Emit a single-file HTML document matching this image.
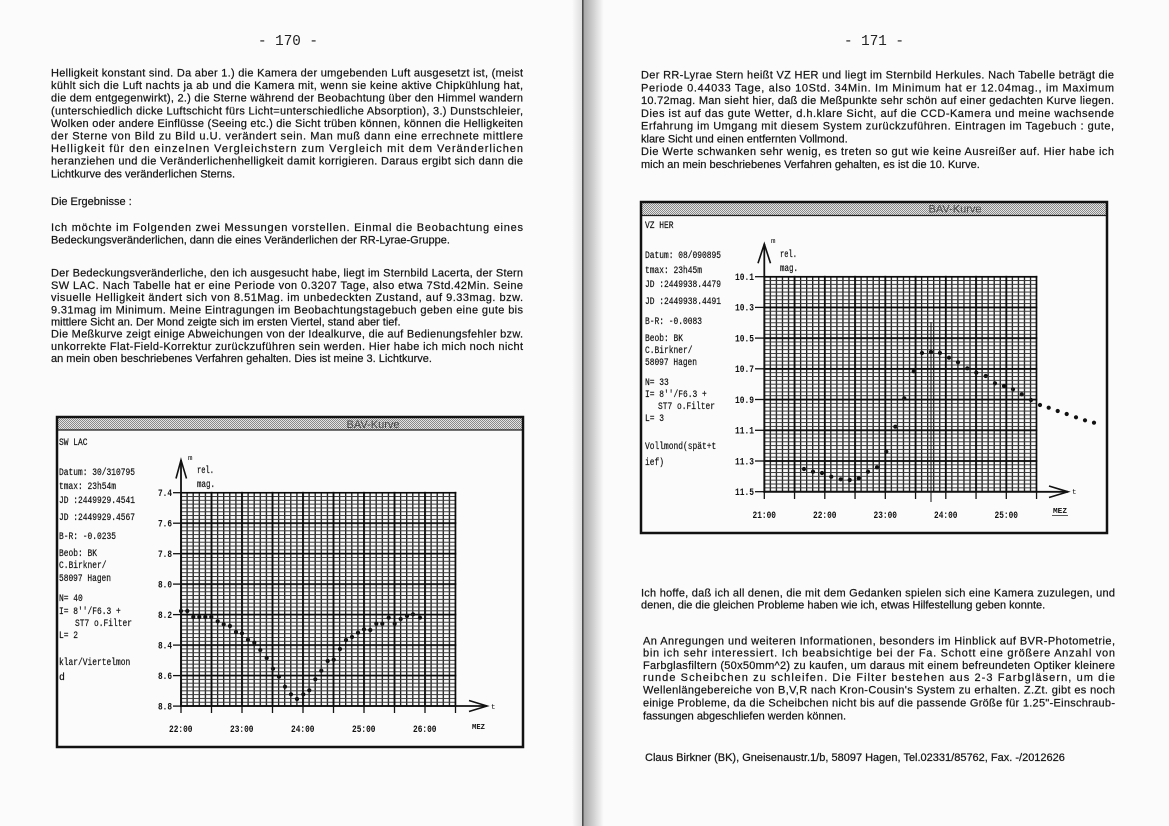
<!DOCTYPE html>
<html>
<head>
<meta charset="utf-8">
<style>
html,body{margin:0;padding:0;background:#fbfbfb;}
svg{display:block;}
.b{font-family:"Liberation Sans",Arial,sans-serif;font-size:11px;fill:#151515;stroke:#151515;stroke-width:0.22px;}
.pn{font-family:"Liberation Mono",monospace;font-size:15px;fill:#222;}
.i{font-family:"Liberation Mono",monospace;font-size:9.8px;fill:#111;stroke:#111;stroke-width:0.2px;}
.tk{font-family:"Liberation Mono",monospace;font-size:10px;font-weight:bold;fill:#111;}
.sm{font-family:"Liberation Mono",monospace;font-size:7.5px;fill:#111;}
.tt{font-family:"Liberation Sans",Arial,sans-serif;font-size:11px;fill:#444;}
</style>
</head>
<body>
<svg width="1169" height="826" viewBox="0 0 1169 826" xmlns="http://www.w3.org/2000/svg">
<defs>
  <pattern id="stip" patternUnits="userSpaceOnUse" x="0" y="0" width="2" height="2">
    <rect width="2" height="2" fill="#e4e4e4"/>
    <rect width="1" height="1" fill="#8a8a8a"/>
    <rect x="1" y="1" width="1" height="1" fill="#8a8a8a"/>
  </pattern>
  <pattern id="mnL" patternUnits="userSpaceOnUse" x="180.35" y="492.2" width="6.1" height="3.81">
    <path d="M0.65,0V3.81" stroke="#1a1a1a" stroke-width="1.3" fill="none"/>
    <path d="M0,0.5H6.1" stroke="#3a3a3a" stroke-width="1.0" fill="none"/>
  </pattern>
  <pattern id="mjL" patternUnits="userSpaceOnUse" x="180.1" y="491.8" width="30.5" height="30.48">
    <path d="M0.9,0V30.48M0,0.9H30.5" stroke="#0a0a0a" stroke-width="1.8" fill="none"/>
  </pattern>
  <pattern id="mnR" patternUnits="userSpaceOnUse" x="763.65" y="276.2" width="6.05" height="3.839">
    <path d="M0.65,0V3.839" stroke="#1a1a1a" stroke-width="1.3" fill="none"/>
    <path d="M0,0.5H6.05" stroke="#3a3a3a" stroke-width="1.0" fill="none"/>
  </pattern>
  <pattern id="mjR" patternUnits="userSpaceOnUse" x="763.4" y="275.8" width="30.25" height="30.714">
    <path d="M0.9,0V30.714M0,0.9H30.25" stroke="#0a0a0a" stroke-width="1.8" fill="none"/>
  </pattern>
  <linearGradient id="gut" x1="0" y1="0" x2="1" y2="0">
    <stop offset="0" stop-color="#a8a8a8"/>
    <stop offset="1" stop-color="#fbfbfb"/>
  </linearGradient>
  <linearGradient id="gutl" x1="0" y1="0" x2="1" y2="0">
    <stop offset="0" stop-color="#fbfbfb"/>
    <stop offset="1" stop-color="#dcdcdc"/>
  </linearGradient>
</defs>

<!-- gutter -->
<rect x="572" y="0" width="10" height="826" fill="url(#gutl)"/>
<rect x="582" y="0" width="1.8" height="826" fill="#4a4a4a"/>
<rect x="583.8" y="0" width="20" height="826" fill="url(#gut)"/>

<!-- ============ LEFT PAGE ============ -->
<text class="pn" x="258" y="45" textLength="60" lengthAdjust="spacingAndGlyphs">- 170 -</text>

<text class="b" x="51" y="76.5" textLength="472" lengthAdjust="spacing">Helligkeit konstant sind. Da aber 1.) die Kamera der umgebenden Luft ausgesetzt ist, (meist</text>
<text class="b" x="51" y="89.1" textLength="472" lengthAdjust="spacing">kühlt sich die Luft nachts ja ab und die Kamera mit, wenn sie keine aktive Chipkühlung hat,</text>
<text class="b" x="51" y="101.7" textLength="472" lengthAdjust="spacing">die dem entgegenwirkt), 2.) die Sterne während der Beobachtung über den Himmel wandern</text>
<text class="b" x="51" y="114.3" textLength="472" lengthAdjust="spacing">(unterschiedlich dicke Luftschicht fürs Licht=unterschiedliche Absorption), 3.) Dunstschleier,</text>
<text class="b" x="51" y="126.9" textLength="472" lengthAdjust="spacing">Wolken oder andere Einflüsse (Seeing etc.) die Sicht trüben können, können die Helligkeiten</text>
<text class="b" x="51" y="139.5" textLength="472" lengthAdjust="spacing">der Sterne von Bild zu Bild u.U. verändert sein. Man muß dann eine errechnete mittlere</text>
<text class="b" x="51" y="152.1" textLength="472" lengthAdjust="spacing">Helligkeit für den einzelnen Vergleichstern zum Vergleich mit dem Veränderlichen</text>
<text class="b" x="51" y="164.7" textLength="472" lengthAdjust="spacing">heranziehen und die Veränderlichenhelligkeit damit korrigieren. Daraus ergibt sich dann die</text>
<text class="b" x="51" y="177.3">Lichtkurve des veränderlichen Sterns.</text>

<text class="b" x="51" y="205">Die Ergebnisse :</text>

<text class="b" x="51" y="231.2" textLength="472" lengthAdjust="spacing">Ich möchte im Folgenden zwei Messungen vorstellen. Einmal die Beobachtung eines</text>
<text class="b" x="51" y="243.7">Bedeckungsveränderlichen, dann die eines Veränderlichen der RR-Lyrae-Gruppe.</text>

<text class="b" x="51" y="276.7" textLength="472" lengthAdjust="spacing">Der Bedeckungsveränderliche, den ich ausgesucht habe, liegt im Sternbild Lacerta, der Stern</text>
<text class="b" x="51" y="288.9" textLength="472" lengthAdjust="spacing">SW LAC. Nach Tabelle hat er eine Periode von 0.3207 Tage, also etwa 7Std.42Min. Seine</text>
<text class="b" x="51" y="301.1" textLength="472" lengthAdjust="spacing">visuelle Helligkeit ändert sich von 8.51Mag. im unbedeckten Zustand, auf 9.33mag. bzw.</text>
<text class="b" x="51" y="313.3" textLength="472" lengthAdjust="spacing">9.31mag im Minimum. Meine Eintragungen im Beobachtungstagebuch geben eine gute bis</text>
<text class="b" x="51" y="325.5">mittlere Sicht an. Der Mond zeigte sich im ersten Viertel, stand aber tief.</text>
<text class="b" x="51" y="337.7" textLength="472" lengthAdjust="spacing">Die Meßkurve zeigt einige Abweichungen von der Idealkurve, die auf Bedienungsfehler bzw.</text>
<text class="b" x="51" y="349.9" textLength="472" lengthAdjust="spacing">unkorrekte Flat-Field-Korrektur zurückzuführen sein werden. Hier habe ich mich noch nicht</text>
<text class="b" x="51" y="362.1">an mein oben beschriebenes Verfahren gehalten. Dies ist meine 3. Lichtkurve.</text>

<!-- LEFT CHART -->
<rect x="57" y="417" width="466" height="13" fill="url(#stip)"/>
<line x1="57" y1="430" x2="523" y2="430" stroke="#222" stroke-width="1.2"/>
<text class="tt" x="373" y="428" text-anchor="middle">BAV-Kurve</text>
<rect x="57" y="417" width="466" height="330" fill="none" stroke="#111" stroke-width="2.5"/>

<g>
<text class="i" x="59" y="445" textLength="28.5" lengthAdjust="spacingAndGlyphs">SW LAC</text>
<text class="i" x="59" y="475" textLength="76" lengthAdjust="spacingAndGlyphs">Datum: 30/310795</text>
<text class="i" x="59" y="489" textLength="57" lengthAdjust="spacingAndGlyphs">tmax: 23h54m</text>
<text class="i" x="59" y="503" textLength="76" lengthAdjust="spacingAndGlyphs">JD :2449929.4541</text>
<text class="i" x="59" y="520" textLength="76" lengthAdjust="spacingAndGlyphs">JD :2449929.4567</text>
<text class="i" x="59" y="539" textLength="57" lengthAdjust="spacingAndGlyphs">B-R: -0.0235</text>
<text class="i" x="59" y="556" textLength="38" lengthAdjust="spacingAndGlyphs">Beob: BK</text>
<text class="i" x="59" y="568" textLength="47.5" lengthAdjust="spacingAndGlyphs">C.Birkner/</text>
<text class="i" x="59" y="581" textLength="52" lengthAdjust="spacingAndGlyphs">58097 Hagen</text>
<text class="i" x="59" y="601" textLength="23.8" lengthAdjust="spacingAndGlyphs">N= 40</text>
<text class="i" x="59" y="614" textLength="61.8" lengthAdjust="spacingAndGlyphs">I= 8''/F6.3 +</text>
<text class="i" x="75" y="626" textLength="57" lengthAdjust="spacingAndGlyphs">ST7 o.Filter</text>
<text class="i" x="59" y="638" textLength="19" lengthAdjust="spacingAndGlyphs">L= 2</text>
<text class="i" x="59" y="665" textLength="71.3" lengthAdjust="spacingAndGlyphs">klar/Viertelmon</text>
<text class="i" x="59" y="680">d</text>
</g>

<rect x="180.35" y="492.2" width="275.8" height="214.4" fill="url(#mnL)"/>
<rect x="180.1" y="491.8" width="276.3" height="215.2" fill="url(#mjL)"/>

<!-- axes -->
<line x1="181" y1="707" x2="181" y2="460" stroke="#111" stroke-width="1.8"/>
<polyline points="176,478.5 181,460 186.5,478.5" fill="none" stroke="#111" stroke-width="1.6"/>
<line x1="181" y1="706" x2="487" y2="706" stroke="#111" stroke-width="1.8"/>
<polyline points="469,700.5 487,706 469,711.5" fill="none" stroke="#111" stroke-width="1.6"/>
<text class="sm" x="491" y="709">t</text>
<text class="sm" x="188" y="460">m</text>
<text class="i" x="197" y="473" textLength="17" lengthAdjust="spacingAndGlyphs">rel.</text>
<text class="i" x="197" y="487" textLength="18" lengthAdjust="spacingAndGlyphs">mag.</text>

<g stroke="#111" stroke-width="1.3">
<line x1="173" y1="492.7" x2="181" y2="492.7"/>
<line x1="173" y1="523.2" x2="181" y2="523.2"/>
<line x1="173" y1="553.7" x2="181" y2="553.7"/>
<line x1="173" y1="584.1" x2="181" y2="584.1"/>
<line x1="173" y1="614.6" x2="181" y2="614.6"/>
<line x1="173" y1="645.1" x2="181" y2="645.1"/>
<line x1="173" y1="675.6" x2="181" y2="675.6"/>
<line x1="173" y1="706.1" x2="181" y2="706.1"/>
<line x1="181" y1="706" x2="181" y2="713"/>
<line x1="211.5" y1="706" x2="211.5" y2="713"/>
<line x1="242" y1="706" x2="242" y2="713"/>
<line x1="272.5" y1="706" x2="272.5" y2="713"/>
<line x1="303" y1="706" x2="303" y2="713"/>
<line x1="333.5" y1="706" x2="333.5" y2="713"/>
<line x1="364" y1="706" x2="364" y2="713"/>
<line x1="394.5" y1="706" x2="394.5" y2="713"/>
<line x1="425" y1="706" x2="425" y2="713"/>
<line x1="455.5" y1="706" x2="455.5" y2="713"/>
</g>
<g class="tk" text-anchor="end">
<text x="172" y="496" textLength="14" lengthAdjust="spacingAndGlyphs">7.4</text>
<text x="172" y="526.5" textLength="14" lengthAdjust="spacingAndGlyphs">7.6</text>
<text x="172" y="557" textLength="14" lengthAdjust="spacingAndGlyphs">7.8</text>
<text x="172" y="587.4" textLength="14" lengthAdjust="spacingAndGlyphs">8.0</text>
<text x="172" y="617.9" textLength="14" lengthAdjust="spacingAndGlyphs">8.2</text>
<text x="172" y="648.4" textLength="14" lengthAdjust="spacingAndGlyphs">8.4</text>
<text x="172" y="678.9" textLength="14" lengthAdjust="spacingAndGlyphs">8.6</text>
<text x="172" y="709.4" textLength="14" lengthAdjust="spacingAndGlyphs">8.8</text>
</g>
<g class="tk">
<text x="169" y="732" textLength="23.5" lengthAdjust="spacingAndGlyphs">22:00</text>
<text x="230" y="732" textLength="23.5" lengthAdjust="spacingAndGlyphs">23:00</text>
<text x="291" y="732" textLength="23.5" lengthAdjust="spacingAndGlyphs">24:00</text>
<text x="352" y="732" textLength="23.5" lengthAdjust="spacingAndGlyphs">25:00</text>
<text x="413" y="732" textLength="23.5" lengthAdjust="spacingAndGlyphs">26:00</text>
</g>
<text class="sm" x="472" y="729" font-weight="bold" textLength="13" lengthAdjust="spacingAndGlyphs">MEZ</text>

<g fill="#111">
<circle cx="181.0" cy="611.0" r="2.1"/><circle cx="187.3" cy="611.0" r="2.1"/>
<circle cx="193.3" cy="617.0" r="2.1"/><circle cx="199.3" cy="617.0" r="2.1"/>
<circle cx="205.3" cy="617.0" r="2.1"/><circle cx="211.3" cy="617.0" r="2.1"/>
<circle cx="217.7" cy="621.3" r="2.1"/><circle cx="223.7" cy="624.3" r="2.1"/>
<circle cx="230.0" cy="626.0" r="2.1"/><circle cx="236.0" cy="632.0" r="2.1"/>
<circle cx="242.0" cy="633.3" r="2.1"/><circle cx="248.0" cy="639.7" r="2.1"/>
<circle cx="254.3" cy="642.7" r="2.1"/><circle cx="260.3" cy="650.0" r="2.1"/>
<circle cx="266.7" cy="658.0" r="2.1"/><circle cx="273.0" cy="668.7" r="2.1"/>
<circle cx="279.0" cy="676.7" r="2.1"/><circle cx="285.0" cy="686.7" r="2.1"/>
<circle cx="291.0" cy="694.3" r="2.1"/><circle cx="297.0" cy="699.0" r="2.1"/>
<circle cx="303.3" cy="694.3" r="2.1"/><circle cx="309.3" cy="690.3" r="2.1"/>
<circle cx="315.3" cy="679.3" r="2.1"/><circle cx="321.3" cy="670.7" r="2.1"/>
<circle cx="327.7" cy="661.0" r="2.1"/><circle cx="333.7" cy="659.7" r="2.1"/>
<circle cx="340.0" cy="649.0" r="2.1"/><circle cx="346.0" cy="640.0" r="2.1"/>
<circle cx="352.0" cy="637.0" r="2.1"/><circle cx="358.0" cy="632.7" r="2.1"/>
<circle cx="364.0" cy="629.3" r="2.1"/><circle cx="370.3" cy="630.0" r="2.1"/>
<circle cx="376.3" cy="623.7" r="2.1"/><circle cx="382.3" cy="623.7" r="2.1"/>
<circle cx="388.7" cy="617.7" r="2.1"/><circle cx="394.7" cy="623.7" r="2.1"/>
<circle cx="400.7" cy="619.0" r="2.1"/><circle cx="407.0" cy="616.0" r="2.1"/>
<circle cx="413.0" cy="614.3" r="2.1"/><circle cx="420.0" cy="617.7" r="2.1"/>
</g>

<!-- ============ RIGHT PAGE ============ -->
<text class="pn" x="844" y="45" textLength="60" lengthAdjust="spacingAndGlyphs">- 171 -</text>

<text class="b" x="641" y="78.7" textLength="473" lengthAdjust="spacing">Der RR-Lyrae Stern heißt VZ HER und liegt im Sternbild Herkules. Nach Tabelle beträgt die</text>
<text class="b" x="641" y="91.4" textLength="473" lengthAdjust="spacing">Periode 0.44033 Tage, also 10Std. 34Min. Im Minimum hat er 12.04mag., im Maximum</text>
<text class="b" x="641" y="104.2" textLength="473" lengthAdjust="spacing">10.72mag. Man sieht hier, daß die Meßpunkte sehr schön auf einer gedachten Kurve liegen.</text>
<text class="b" x="641" y="116.9" textLength="473" lengthAdjust="spacing">Dies ist auf das gute Wetter, d.h.klare Sicht, auf die CCD-Kamera und meine wachsende</text>
<text class="b" x="641" y="129.7" textLength="473" lengthAdjust="spacing">Erfahrung im Umgang mit diesem System zurückzuführen. Eintragen im Tagebuch : gute,</text>
<text class="b" x="641" y="142.4">klare Sicht und einen entfernten Vollmond.</text>
<text class="b" x="641" y="155.2" textLength="473" lengthAdjust="spacing">Die Werte schwanken sehr wenig, es treten so gut wie keine Ausreißer auf. Hier habe ich</text>
<text class="b" x="641" y="167.9">mich an mein beschriebenes Verfahren gehalten, es ist die 10. Kurve.</text>

<!-- RIGHT CHART -->
<rect x="641" y="202" width="466" height="13" fill="url(#stip)"/>
<line x1="641" y1="215.5" x2="1107" y2="215.5" stroke="#222" stroke-width="1.2"/>
<text class="tt" x="955" y="212.5" text-anchor="middle">BAV-Kurve</text>
<rect x="641" y="202" width="466" height="331" fill="none" stroke="#111" stroke-width="2.5"/>

<g>
<text class="i" x="645" y="228" textLength="28.5" lengthAdjust="spacingAndGlyphs">VZ HER</text>
<text class="i" x="645" y="258" textLength="76" lengthAdjust="spacingAndGlyphs">Datum: 08/090895</text>
<text class="i" x="645" y="273" textLength="57" lengthAdjust="spacingAndGlyphs">tmax: 23h45m</text>
<text class="i" x="645" y="287" textLength="76" lengthAdjust="spacingAndGlyphs">JD :2449938.4479</text>
<text class="i" x="645" y="304" textLength="76" lengthAdjust="spacingAndGlyphs">JD :2449938.4491</text>
<text class="i" x="645" y="324" textLength="57" lengthAdjust="spacingAndGlyphs">B-R: -0.0083</text>
<text class="i" x="645" y="341" textLength="38" lengthAdjust="spacingAndGlyphs">Beob: BK</text>
<text class="i" x="645" y="353" textLength="47.5" lengthAdjust="spacingAndGlyphs">C.Birkner/</text>
<text class="i" x="645" y="365" textLength="52" lengthAdjust="spacingAndGlyphs">58097 Hagen</text>
<text class="i" x="645" y="385" textLength="23.8" lengthAdjust="spacingAndGlyphs">N= 33</text>
<text class="i" x="645" y="397" textLength="61.8" lengthAdjust="spacingAndGlyphs">I= 8''/F6.3 +</text>
<text class="i" x="658" y="409" textLength="57" lengthAdjust="spacingAndGlyphs">ST7 o.Filter</text>
<text class="i" x="645" y="421" textLength="19" lengthAdjust="spacingAndGlyphs">L= 3</text>
<text class="i" x="645" y="449" textLength="71.3" lengthAdjust="spacingAndGlyphs">Vollmond(spät+t</text>
<text class="i" x="645" y="465" textLength="19" lengthAdjust="spacingAndGlyphs">ief)</text>
</g>

<rect x="763.65" y="276.2" width="273.5" height="216.0" fill="url(#mnR)"/>
<rect x="763.4" y="275.8" width="274.0" height="216.8" fill="url(#mjR)"/>

<line x1="764.3" y1="493" x2="764.3" y2="244" stroke="#111" stroke-width="1.8"/>
<polyline points="758,263.3 764.3,244 770.5,263.3" fill="none" stroke="#111" stroke-width="1.6"/>
<line x1="764.3" y1="491.8" x2="1068" y2="491.8" stroke="#111" stroke-width="1.8"/>
<polyline points="1049,486 1068,491.8 1049,497.5" fill="none" stroke="#111" stroke-width="1.6"/>
<text class="sm" x="1072" y="494">t</text>
<text class="sm" x="771" y="243">m</text>
<text class="i" x="780" y="257" textLength="17" lengthAdjust="spacingAndGlyphs">rel.</text>
<text class="i" x="780" y="271" textLength="18" lengthAdjust="spacingAndGlyphs">mag.</text>
<line x1="931" y1="322" x2="931" y2="502" stroke="#111" stroke-width="1"/>

<g stroke="#111" stroke-width="1.3">
<line x1="755" y1="276.7" x2="764.3" y2="276.7"/>
<line x1="755" y1="307.4" x2="764.3" y2="307.4"/>
<line x1="755" y1="338.1" x2="764.3" y2="338.1"/>
<line x1="755" y1="368.8" x2="764.3" y2="368.8"/>
<line x1="755" y1="399.5" x2="764.3" y2="399.5"/>
<line x1="755" y1="430.3" x2="764.3" y2="430.3"/>
<line x1="755" y1="461.0" x2="764.3" y2="461.0"/>
<line x1="755" y1="491.7" x2="764.3" y2="491.7"/>
<line x1="764.3" y1="491.8" x2="764.3" y2="499"/>
<line x1="794.55" y1="491.8" x2="794.55" y2="499"/>
<line x1="824.8" y1="491.8" x2="824.8" y2="499"/>
<line x1="855.05" y1="491.8" x2="855.05" y2="499"/>
<line x1="885.3" y1="491.8" x2="885.3" y2="499"/>
<line x1="915.55" y1="491.8" x2="915.55" y2="499"/>
<line x1="945.8" y1="491.8" x2="945.8" y2="499"/>
<line x1="976.05" y1="491.8" x2="976.05" y2="499"/>
<line x1="1006.3" y1="491.8" x2="1006.3" y2="499"/>
<line x1="1036.55" y1="491.8" x2="1036.55" y2="499"/>
</g>
<g class="tk" text-anchor="end">
<text x="754" y="280" textLength="19" lengthAdjust="spacingAndGlyphs">10.1</text>
<text x="754" y="310.7" textLength="19" lengthAdjust="spacingAndGlyphs">10.3</text>
<text x="754" y="341.4" textLength="19" lengthAdjust="spacingAndGlyphs">10.5</text>
<text x="754" y="372.1" textLength="19" lengthAdjust="spacingAndGlyphs">10.7</text>
<text x="754" y="402.8" textLength="19" lengthAdjust="spacingAndGlyphs">10.9</text>
<text x="754" y="433.6" textLength="19" lengthAdjust="spacingAndGlyphs">11.1</text>
<text x="754" y="464.3" textLength="19" lengthAdjust="spacingAndGlyphs">11.3</text>
<text x="754" y="495" textLength="19" lengthAdjust="spacingAndGlyphs">11.5</text>
</g>
<g class="tk">
<text x="752.5" y="518" textLength="23.5" lengthAdjust="spacingAndGlyphs">21:00</text>
<text x="813" y="518" textLength="23.5" lengthAdjust="spacingAndGlyphs">22:00</text>
<text x="873.5" y="518" textLength="23.5" lengthAdjust="spacingAndGlyphs">23:00</text>
<text x="934" y="518" textLength="23.5" lengthAdjust="spacingAndGlyphs">24:00</text>
<text x="994.5" y="518" textLength="23.5" lengthAdjust="spacingAndGlyphs">25:00</text>
</g>
<text class="sm" x="1053" y="513" font-weight="bold" textLength="14" lengthAdjust="spacingAndGlyphs">MEZ</text>
<line x1="1052" y1="515.5" x2="1068" y2="515.5" stroke="#333" stroke-width="0.8"/>

<g fill="#111">
<circle cx="804.0" cy="469.0" r="2.1"/><circle cx="813.0" cy="471.7" r="2.1"/>
<circle cx="822.0" cy="473.0" r="2.1"/><circle cx="831.3" cy="476.7" r="2.1"/>
<circle cx="840.7" cy="479.3" r="2.1"/><circle cx="849.7" cy="480.0" r="2.1"/>
<circle cx="858.7" cy="478.3" r="2.1"/><circle cx="868.0" cy="471.7" r="2.1"/>
<circle cx="877.0" cy="467.3" r="2.1"/><circle cx="886.3" cy="451.7" r="2.1"/>
<circle cx="895.3" cy="426.7" r="2.1"/><circle cx="904.3" cy="398.3" r="2.1"/>
<circle cx="913.7" cy="371.3" r="2.1"/><circle cx="922.0" cy="353.0" r="2.1"/>
<circle cx="931.0" cy="352.0" r="2.1"/><circle cx="940.0" cy="353.0" r="2.1"/>
<circle cx="949.0" cy="357.7" r="2.1"/><circle cx="958.0" cy="362.3" r="2.1"/>
<circle cx="967.3" cy="368.3" r="2.1"/><circle cx="976.3" cy="372.7" r="2.1"/>
<circle cx="985.7" cy="376.0" r="2.1"/><circle cx="995.0" cy="383.3" r="2.1"/>
<circle cx="1004.0" cy="386.0" r="2.1"/><circle cx="1013.0" cy="389.3" r="2.1"/>
<circle cx="1021.7" cy="394.3" r="2.1"/><circle cx="1031.0" cy="400.0" r="2.1"/>
<circle cx="1040.0" cy="405.0" r="2.1"/><circle cx="1048.7" cy="407.7" r="2.1"/>
<circle cx="1057.7" cy="411.0" r="2.1"/><circle cx="1066.7" cy="414.0" r="2.1"/>
<circle cx="1076.0" cy="417.3" r="2.1"/><circle cx="1085.0" cy="420.3" r="2.1"/>
<circle cx="1094.0" cy="422.7" r="2.1"/>
</g>

<!-- bottom text right -->
<text class="b" x="641" y="596.4" textLength="474" lengthAdjust="spacing">Ich hoffe, daß ich all denen, die mit dem Gedanken spielen sich eine Kamera zuzulegen, und</text>
<text class="b" x="641" y="608.4">denen, die die gleichen Probleme haben wie ich, etwas Hilfestellung geben konnte.</text>

<text class="b" x="643" y="644.4" textLength="472" lengthAdjust="spacing">An Anregungen und weiteren Informationen, besonders im Hinblick auf BVR-Photometrie,</text>
<text class="b" x="643" y="656.6" textLength="472" lengthAdjust="spacing">bin ich sehr interessiert. Ich beabsichtige bei der Fa. Schott eine größere Anzahl von</text>
<text class="b" x="643" y="668.9" textLength="472" lengthAdjust="spacing">Farbglasfiltern (50x50mm^2) zu kaufen, um daraus mit einem befreundeten Optiker kleinere</text>
<text class="b" x="643" y="681.2" textLength="472" lengthAdjust="spacing">runde Scheibchen zu schleifen. Die Filter bestehen aus 2-3 Farbgläsern, um die</text>
<text class="b" x="643" y="693.7" textLength="472" lengthAdjust="spacing">Wellenlängebereiche von B,V,R nach Kron-Cousin's System zu erhalten. Z.Zt. gibt es noch</text>
<text class="b" x="643" y="706.3" textLength="472" lengthAdjust="spacing">einige Probleme, da die Scheibchen nicht bis auf die passende Größe für 1.25"-Einschraub-</text>
<text class="b" x="643" y="719.5">fassungen abgeschliefen werden können.</text>

<text class="b" x="645" y="761">Claus Birkner (BK), Gneisenaustr.1/b, 58097 Hagen, Tel.02331/85762, Fax. -/2012626</text>
</svg>
</body>
</html>
